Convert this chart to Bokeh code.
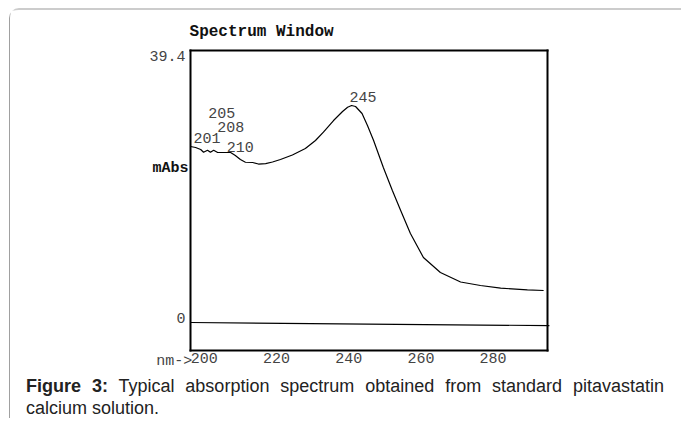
from bokeh.plotting import figure
from bokeh.models import Range1d, Label, ColumnDataSource, FixedTicker, Div, LinearAxis
from bokeh.layouts import column
from bokeh.core.properties import value
from bokeh.embed import file_html
from bokeh.resources import INLINE

# ---- data ----
wavelength_nm = [196.2, 197.6, 199.0, 199.8, 200.9, 201.7, 202.6, 203.7, 205.0, 207.3,
                 208.6, 210.0, 211.4, 213.4, 215.0, 217.0, 218.9, 221.1, 224.4, 228.0,
                 230.8, 233.0, 235.8, 238.3, 239.7, 240.8, 241.9, 243.7, 245.2, 246.9,
                 249.6, 252.1, 254.4, 257.1, 260.7, 265.4, 271.0, 276.5, 282.1, 289.5,
                 294.0]
absorbance_mabs = [25.50, 25.35, 25.06, 24.67, 24.96, 24.67, 24.96, 24.63, 24.63, 24.63,
                   24.19, 23.61, 23.22, 23.18, 22.96, 23.03, 23.25, 23.61, 24.26, 25.21,
                   26.37, 27.57, 29.26, 30.57, 31.19, 31.44, 31.29, 30.28, 28.54, 26.37,
                   22.45, 19.12, 16.22, 12.89, 9.42, 7.24, 5.87, 5.36, 4.97, 4.74,
                   4.64]
baseline_nm = [196.2, 295.6]
baseline_mabs = [0.0, -0.45]

peak_labels = ["201", "205", "208", "210", "245"]
peak_label_nm = [197.0, 201.1, 203.6, 206.2, 240.2]
peak_label_mabs = [26.7, 30.3, 28.3, 25.4, 32.7]

x_ticks = [200, 220, 240, 260, 280]
box_nm = (196.2, 295.1)          # spectrum window extent (nm)
box_mabs = (-4.06, 39.4)         # spectrum window extent (mAbs)
view_nm = (146.32, 332.19)       # whole drawing area in nm
view_mabs = (-6.95, 45.2)        # whole drawing area in mAbs
y_ticks = [0, 39.4]
y_tick_labels = ["0", "39.4"]
y_label_mabs = 22.3

title_text = "Spectrum Window"
y_label_text = "mAbs"
x_prefix_text = "nm->"
caption_bold = "Figure 3:"
caption_line1 = "Typical absorption spectrum obtained from standard pitavastatin"
caption_line2 = "calcium solution."

MONO = "Liberation Mono"
TXT = "#444444"

p = figure(width=671, height=360,
           x_range=Range1d(*view_nm), y_range=Range1d(*view_mabs),
           output_backend="svg", toolbar_location=None,
           x_axis_location=None, y_axis_location=None,
           min_border=0, min_border_left=0, min_border_right=0,
           min_border_top=0, min_border_bottom=0)
p.grid.visible = False
p.outline_line_color = None
p.background_fill_color = "white"
p.border_fill_color = "white"


def box_axis(loc, place, bounds, ticks):
    ax = LinearAxis(fixed_location=loc, bounds=bounds, ticker=FixedTicker(ticks=ticks))
    ax.axis_line_color = "black"
    ax.axis_line_width = 2
    ax.axis_line_cap = "square"
    ax.major_tick_line_color = None
    ax.minor_tick_line_color = None
    ax.major_tick_out = 0
    ax.major_tick_in = 0
    ax.minor_tick_out = 0
    ax.minor_tick_in = 0
    p.add_layout(ax, place)
    return ax


box_axis(box_mabs[1], "above", box_nm, [])
box_axis(box_nm[0], "left", box_mabs, [])
box_axis(box_nm[1], "right", box_mabs, [])
bx = box_axis(box_mabs[0], "below", box_nm, x_ticks)
bx.major_label_standoff = 2
bx.major_label_text_font = MONO
bx.major_label_text_font_size = "15px"
bx.major_label_text_color = TXT

# spectrum and baseline
p.line(wavelength_nm, absorbance_mabs, line_color="black", line_width=1.2)
p.line(baseline_nm, baseline_mabs, line_color="black", line_width=1.2)

src = ColumnDataSource(dict(x=peak_label_nm, y=peak_label_mabs, t=peak_labels))
p.text(x="x", y="y", text="t", source=src, text_font=value(MONO),
       text_font_size="15px", text_color=TXT, text_align="left",
       text_baseline="middle")

# y tick labels, y label, x prefix, title
for val, lab in zip(y_ticks, y_tick_labels):
    p.add_layout(Label(x=box_nm[0], y=val, text=lab, x_offset=-5,
                       text_align="right",
                       text_baseline="top" if val > 0 else "bottom",
                       text_font=MONO, text_font_size="15px", text_color=TXT))
p.add_layout(Label(x=box_nm[0], y=y_label_mabs, text=y_label_text, x_offset=-2,
                   text_align="right", text_baseline="middle",
                   text_font=MONO, text_font_size="15px", text_font_style="bold",
                   text_color="#111111"))
p.add_layout(Label(x=x_ticks[0], y=box_mabs[0], text=x_prefix_text,
                   x_offset=-12, y_offset=-2, text_align="right", text_baseline="top",
                   text_font=MONO, text_font_size="15px", text_color=TXT))
p.add_layout(Label(x=box_nm[0], y=box_mabs[1], text=title_text,
                   x_offset=-1, y_offset=19, text_align="left",
                   text_baseline="alphabetic",
                   text_font=MONO, text_font_size="16px", text_font_style="bold",
                   text_color="#111111"))

caption_html = (
    '<div style="margin:0 0 0 11px; width:638px; display:block;'
    ' font-family:\'Liberation Sans\',Arial,sans-serif;'
    ' font-size:18px; line-height:22px; color:#222222; white-space:normal;">'
    '<div style="display:block; width:638px; text-align:justify; text-align-last:justify;'
    ' white-space:normal;">'
    f'<b>{caption_bold}</b> <span>{caption_line1}</span></div>'
    f'<div style="display:block;">{caption_line2}</div></div>'
)
cap = Div(text=caption_html, width=671, height=48)

layout = column(p, cap, width=672, height=410, spacing=0, margin=(8, 0, 0, 9),
                styles={"border-top": "2px solid #cccccc",
                        "border-left": "1px solid #a0a0a0",
                        "border-top-left-radius": "10px"})

open("out.html", "w").write(file_html(layout, INLINE))
